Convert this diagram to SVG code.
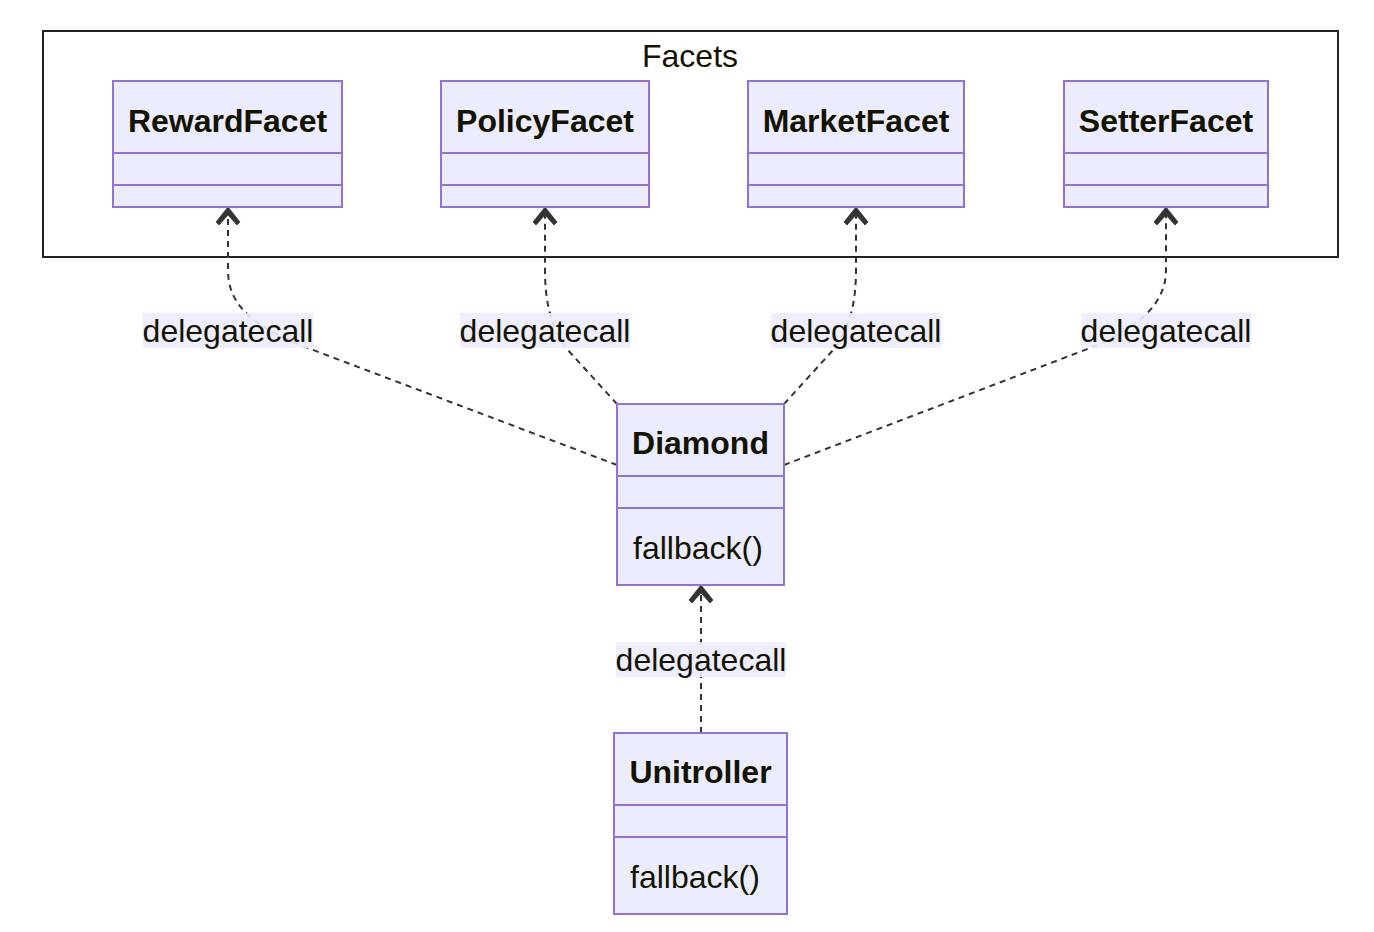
<svg xmlns="http://www.w3.org/2000/svg" width="1374" height="932" viewBox="0 0 1374 932">
<style>
.box{fill:#ECECFF;stroke:#9370DB;stroke-width:2}
.div{stroke:#9370DB;stroke-width:2}
.t{font-family:"Liberation Sans",Arial,sans-serif;font-size:32px;fill:#131300}
.b{font-weight:bold;text-anchor:middle}
.m{text-anchor:middle}
.edge{fill:none;stroke:#333;stroke-width:2;stroke-dasharray:6,5}
.lbl{fill:#ECECFF;opacity:0.9}
</style>
<defs>
<marker id="arr" markerUnits="userSpaceOnUse" markerWidth="40" markerHeight="40" viewBox="-20 -20 40 40" refX="0" refY="0" orient="auto">
<path d="M1,0 L-14,-12 L-17,-9 L-7,0 L-17,9 L-14,12 Z" fill="#333" stroke="#333" stroke-width="0.8" stroke-linejoin="miter"/>
</marker>
</defs>
<rect width="1374" height="932" fill="#fff"/>
<g id="cluster-Facets">
<rect x="43" y="31" width="1295" height="226" fill="#fff" stroke="#222" stroke-width="2"/>
<text class="t m" x="690" y="67">Facets</text>
</g>
<g id="edges">
<path class="edge" d="M617,465 L300,345 C245,322 228,300 228,270 L228,208" marker-end="url(#arr)"/>
<path class="edge" d="M617,404 L566,348 C550,325 545,300 545,270 L545,208" marker-end="url(#arr)"/>
<path class="edge" d="M784,404 L835,348 C851,325 856,300 856,270 L856,208" marker-end="url(#arr)"/>
<path class="edge" d="M784,465 L1090,348 C1145,325 1166,300 1166,270 L1166,208" marker-end="url(#arr)"/>
<path class="edge" d="M701,733 L701,586" marker-end="url(#arr)"/>
<rect class="lbl" x="143" y="313" width="170" height="35"/>
<text class="t m" x="228" y="342">delegatecall</text>
<rect class="lbl" x="460" y="313" width="170" height="35"/>
<text class="t m" x="545" y="342">delegatecall</text>
<rect class="lbl" x="771" y="313" width="170" height="35"/>
<text class="t m" x="856" y="342">delegatecall</text>
<rect class="lbl" x="1081" y="313" width="170" height="35"/>
<text class="t m" x="1166" y="342">delegatecall</text>
<rect class="lbl" x="616" y="642" width="170" height="35"/>
<text class="t m" x="701" y="671">delegatecall</text>
</g>
<g id="RewardFacet">
<rect class="box" x="113" y="81" width="229" height="126"/>
<line class="div" x1="113" y1="153" x2="342" y2="153"/>
<line class="div" x1="113" y1="185" x2="342" y2="185"/>
<text class="t b" x="227.5" y="132">RewardFacet</text>
</g>
<g id="PolicyFacet">
<rect class="box" x="441" y="81" width="208" height="126"/>
<line class="div" x1="441" y1="153" x2="649" y2="153"/>
<line class="div" x1="441" y1="185" x2="649" y2="185"/>
<text class="t b" x="545" y="132">PolicyFacet</text>
</g>
<g id="MarketFacet">
<rect class="box" x="748" y="81" width="216" height="126"/>
<line class="div" x1="748" y1="153" x2="964" y2="153"/>
<line class="div" x1="748" y1="185" x2="964" y2="185"/>
<text class="t b" x="856" y="132">MarketFacet</text>
</g>
<g id="SetterFacet">
<rect class="box" x="1064" y="81" width="204" height="126"/>
<line class="div" x1="1064" y1="153" x2="1268" y2="153"/>
<line class="div" x1="1064" y1="185" x2="1268" y2="185"/>
<text class="t b" x="1166" y="132">SetterFacet</text>
</g>
<g id="Diamond">
<rect class="box" x="617" y="404" width="167" height="181"/>
<line class="div" x1="617" y1="476" x2="784" y2="476"/>
<line class="div" x1="617" y1="508" x2="784" y2="508"/>
<text class="t b" x="700.5" y="454">Diamond</text>
<text class="t" x="633" y="559">fallback()</text>
</g>
<g id="Unitroller">
<rect class="box" x="614" y="733" width="173" height="181"/>
<line class="div" x1="614" y1="805" x2="787" y2="805"/>
<line class="div" x1="614" y1="837" x2="787" y2="837"/>
<text class="t b" x="700.5" y="783">Unitroller</text>
<text class="t" x="630" y="888">fallback()</text>
</g>
</svg>
